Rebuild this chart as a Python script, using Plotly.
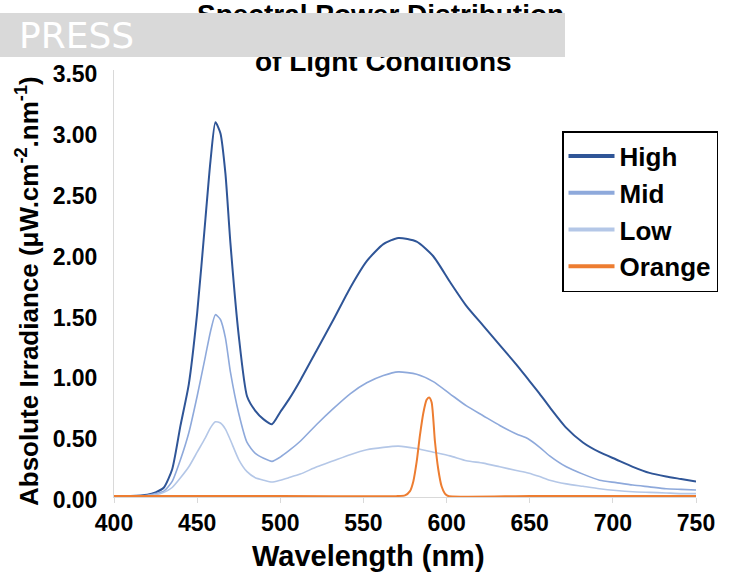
import plotly.graph_objects as go

# ---- data ----
wavelength = [400, 410, 420, 425, 430, 435, 440, 445, 450, 455, 458, 461, 464, 467, 470, 475,
              480, 485, 490, 495, 500, 505, 512, 522, 532, 542, 552, 562, 571, 582, 592, 602,
              612, 622, 632, 642, 649, 656, 662, 672, 682, 692, 702, 712, 722, 732, 741, 750]
high = [0.00, 0.00, 0.01, 0.03, 0.07, 0.22, 0.58, 0.92, 1.50, 2.28, 2.75, 3.07, 2.98, 2.65, 2.08, 1.32,
        0.82, 0.70, 0.63, 0.59, 0.69, 0.79, 0.95, 1.20, 1.45, 1.71, 1.93, 2.07, 2.12, 2.09, 1.97, 1.76,
        1.56, 1.40, 1.24, 1.08, 0.96, 0.84, 0.73, 0.56, 0.44, 0.36, 0.30, 0.24, 0.19, 0.16, 0.14, 0.12]
mid = [0.00, 0.00, 0.005, 0.02, 0.04, 0.12, 0.30, 0.52, 0.82, 1.15, 1.35, 1.49, 1.45, 1.30, 1.02, 0.68,
       0.44, 0.35, 0.31, 0.285, 0.32, 0.37, 0.45, 0.59, 0.72, 0.84, 0.93, 0.99, 1.02, 1.00, 0.94, 0.84,
       0.74, 0.66, 0.58, 0.51, 0.47, 0.40, 0.33, 0.24, 0.18, 0.13, 0.11, 0.09, 0.075, 0.06, 0.055, 0.05]
low = [0.00, 0.00, 0.003, 0.01, 0.03, 0.07, 0.15, 0.24, 0.36, 0.48, 0.56, 0.61, 0.60, 0.55, 0.46, 0.30,
       0.20, 0.15, 0.13, 0.115, 0.13, 0.15, 0.18, 0.24, 0.29, 0.34, 0.38, 0.40, 0.41, 0.39, 0.36, 0.33,
       0.29, 0.27, 0.24, 0.21, 0.19, 0.16, 0.13, 0.10, 0.08, 0.06, 0.045, 0.035, 0.03, 0.025, 0.02, 0.02]
orange_wl = [400, 500, 570, 575, 578, 580, 582, 584, 586, 588, 589.5, 591, 593, 595, 597, 599, 601, 650, 750]
orange = [0.0, 0.0, 0.0, 0.005, 0.04, 0.12, 0.28, 0.50, 0.68, 0.79, 0.81, 0.77, 0.45, 0.22, 0.08, 0.02, 0.0, 0.0, 0.0]

series_names = ["High", "Mid", "Low", "Orange"]
series_colors = ["#2F5597", "#8EA9DB", "#B4C7E7", "#ED7D31"]
x_ticks = [400, 450, 500, 550, 600, 650, 700, 750]
y_ticks = [0.0, 0.5, 1.0, 1.5, 2.0, 2.5, 3.0, 3.5]

FONT = "Liberation Sans, Arial, sans-serif"

W, H = 734, 584
L, R, T, B = 114, 38, 70, 87
PW, PH = W - L - R, H - T - B


def px(xp):
    return (xp - L) / PW


def py(yp):
    return (H - B - yp) / PH


fig = go.Figure()
xs = [wavelength, wavelength, wavelength, orange_wl]
ys = [high, mid, low, orange]
widths = [2, 1.6, 1.6, 2]
for name, col, xv, yv, w in zip(series_names, series_colors, xs, ys, widths):
    fig.add_trace(go.Scatter(x=xv, y=yv, mode="lines", name=name, showlegend=False,
                             line=dict(color=col, width=w, shape="spline", smoothing=0.6),
                             hoverinfo="skip"))
# legend entries (thick swatches as in the reference)
for name, col in zip(series_names, series_colors):
    fig.add_trace(go.Scatter(x=[None], y=[None], mode="lines", name=name,
                             line=dict(color=col, width=4)))

fig.update_layout(
    template="none",
    width=W, height=H,
    margin=dict(l=L, r=R, t=T, b=B, pad=0, autoexpand=False),
    paper_bgcolor="white", plot_bgcolor="white",
    showlegend=True,
    legend=dict(x=px(562), y=py(131), xanchor="left", yanchor="top",
                bgcolor="white", bordercolor="black", borderwidth=1.5,
                font=dict(family=FONT, size=26, color="black", weight="bold"),
                itemwidth=46, tracegroupgap=0),
    xaxis=dict(range=[400, 750], tickvals=x_ticks, showgrid=False, zeroline=False,
               showline=True, linecolor="#D9D9D9", linewidth=1, automargin=False,
               ticks="outside", ticklen=5, tickcolor="#D9D9D9",
               tickfont=dict(family=FONT, size=23, color="black", weight="bold"),
               layer="below traces"),
    yaxis=dict(range=[-0.008, 3.5], tickvals=y_ticks, tickformat=".2f", showgrid=False,
               zeroline=False, showline=True, linecolor="#D9D9D9", linewidth=1, automargin=False,
               ticks="", ticklabelstandoff=11, ticklabelshift=4,
               tickfont=dict(family=FONT, size=23, color="black", weight="bold"),
               layer="below traces"),
)

ann = []
# title (two lines)
ann.append(dict(text="<b>Spectral Power Distribution</b>", x=px(380.5), y=py(14),
                xref="paper", yref="paper", xanchor="center", yanchor="middle", showarrow=False,
                font=dict(family=FONT, size=28, color="black")))
ann.append(dict(text="<b>of Light Conditions</b>", x=px(383.5), y=py(61.5),
                xref="paper", yref="paper", xanchor="center", yanchor="middle", showarrow=False,
                font=dict(family=FONT, size=28, color="black")))
# axis titles
ann.append(dict(text="<b>Wavelength (nm)</b>", x=px(368), y=py(556),
                xref="paper", yref="paper", xanchor="center", yanchor="middle", showarrow=False,
                font=dict(family=FONT, size=29, color="black")))
ann.append(dict(text="<b>Absolute Irradiance (μW.cm<sup>-2</sup>.nm<sup>-1</sup>)</b>",
                x=px(27), y=py(291), textangle=-90,
                xref="paper", yref="paper", xanchor="center", yanchor="middle", showarrow=False,
                font=dict(family=FONT, size=26, color="black")))
# grey banner over the title
ann.append(dict(text=" ", x=px(0), y=py(13), xref="paper", yref="paper",
                xanchor="left", yanchor="top", showarrow=False, width=565, height=44,
                bgcolor="#D9D9D9", borderpad=0, borderwidth=0))
ann.append(dict(text="PRESS", x=px(17), y=py(35.5), xref="paper", yref="paper",
                xanchor="left", yanchor="middle", showarrow=False,
                font=dict(family="DejaVu Sans", size=36, color="white")))
fig.update_layout(annotations=ann)

fig.write_html("out.html", config={"displayModeBar": False},
               post_script="document.body.style.margin='0';")
